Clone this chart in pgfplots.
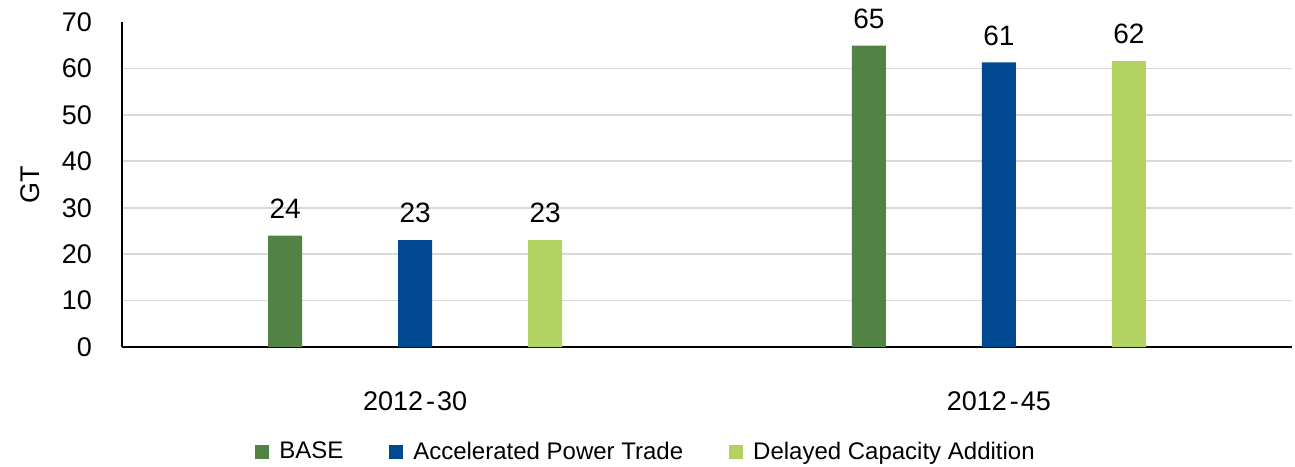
\documentclass[border=0pt]{standalone}
\usepackage{fontspec}
\setmainfont{Liberation Sans}
\usepackage{pgfplots}
\pgfplotsset{compat=1.18}
\definecolor{cbase}{RGB}{83,130,69}
\definecolor{capt}{RGB}{0,73,144}
\definecolor{cdca}{RGB}{178,210,98}
\definecolor{cgrid}{RGB}{217,217,217}
\begin{document}
\begin{tikzpicture}
\begin{axis}[
  name=ax,
  scale only axis,
  width=585pt, height=162.5pt,
  ybar=48pt, bar width=17pt,
  xmin=-0.502, xmax=1.502,
  ymin=0, ymax=70,
  xtick={0,1}, xticklabels={2012\kern1.5pt-\kern1pt30,2012\kern1.5pt-\kern1pt45},
  ytick={0,10,...,60},
  extra y ticks={70}, extra y tick style={grid=none},
  ymajorgrids,
  major grid style={draw=cgrid, line width=0.8pt},
  axis x line*=bottom, axis y line*=left,
  axis line style={line width=0.8pt, black, -},
  tick style={draw=none},
  /pgf/number format/assume math mode=true,
  yticklabel style={font=\fontsize{13.5}{15}\selectfont, xshift=-11.5pt},
  xticklabel style={font=\fontsize{13.5}{15}\selectfont, yshift=-14.5pt},
  ylabel={GT},
  ylabel style={at={(axis description cs:-0.0786,0.5)}, anchor=center, font=\fontsize{13.5}{15}\selectfont},
  nodes near coords,
  nodes near coords style={font=\fontsize{14}{16}\selectfont, yshift=5pt, /pgf/number format/fixed, /pgf/number format/precision=0},
  legend columns=3,
  legend style={draw=none, at={(0.4487,-0.323)}, anchor=center, font=\fontsize{12}{14}\selectfont,
    /tikz/every even column/.append style={column sep=21pt},
    /tikz/every odd column/.append style={column sep=3pt}},
  legend image code/.code={\fill[#1] (0pt,-3.5pt) rectangle (7pt,3.5pt);},
]
\addplot[fill=cbase, draw=none] coordinates {(0,24) (1,64.9)};
\addplot[fill=capt, draw=none] coordinates {(0,23) (1,61.3)};
\addplot[fill=cdca, draw=none] coordinates {(0,23) (1,61.6)};
\legend{BASE, Accelerated Power Trade, Delayed Capacity Addition}
\end{axis}
\pgfresetboundingbox
\path[use as bounding box] ([shift={(-61pt,-59.5pt)}]ax.south west) rectangle ++(647.5pt,233pt);
\end{tikzpicture}
\end{document}
